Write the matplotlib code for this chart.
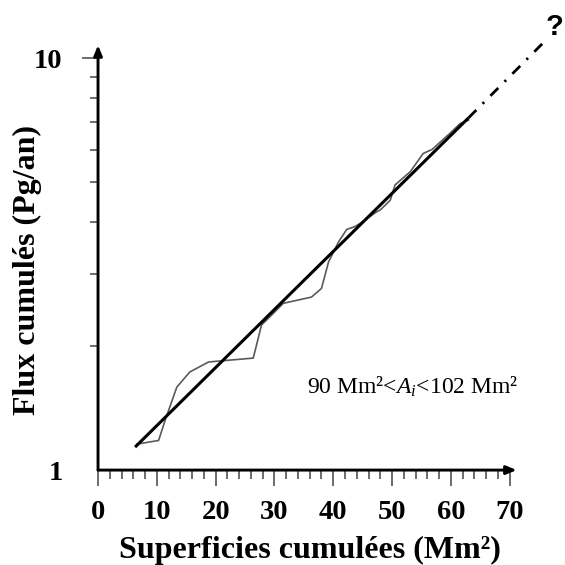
import numpy as np
import matplotlib
matplotlib.use("Agg")
import matplotlib.pyplot as plt
from matplotlib.ticker import FixedLocator, NullFormatter

plt.rcParams["font.family"] = "Liberation Serif"
plt.rcParams["mathtext.fontset"] = "custom"
plt.rcParams["mathtext.rm"] = "Liberation Serif"
plt.rcParams["mathtext.it"] = "Liberation Serif:italic"

# cumulative surface (Mm2) vs cumulative flux (Pg/yr)
surf = [6.6, 10.3, 11.4, 13.4, 15.6, 18.8, 20.7, 26.4, 27.8, 29.8, 31.5, 36.3,
        38.0, 39.2, 40.9, 42.3, 43.7, 45.4, 47.2, 48.0, 49.7, 50.5, 53.1,
        55.3, 56.8, 59.9, 61.6, 63.0]
flux = [1.156, 1.18, 1.32, 1.59, 1.73, 1.83, 1.84, 1.87, 2.25, 2.40, 2.54, 2.63,
        2.76, 3.20, 3.58, 3.84, 3.90, 4.04, 4.22, 4.28, 4.52, 4.92, 5.30,
        5.87, 6.00, 6.58, 6.94, 7.07]

# fitted line and its extrapolation
fit_x = [6.3, 63.0]
fit_y = [1.137, 7.16]
ext_x = [63.0, 76.0]
ext_y = [7.16, 11.0]

x_major = np.arange(0, 71, 10)
x_minor = np.arange(0, 71, 2)
y_minor = [2, 3, 4, 5, 6, 7, 8, 9]

fig = plt.figure(figsize=(5.65, 5.65), dpi=100)
ax = fig.add_axes([0.1735, 0.168, 0.741, 0.752])
ax.set_yscale("log")
ax.set_xlim(0, 71.2)
ax.set_ylim(1, 10.75)

ax.plot(surf, flux, color="#5a5a5a", lw=1.2)
ax.plot(fit_x, fit_y, color="black", lw=2.2, solid_capstyle="butt")
ax.plot(ext_x, ext_y, color="black", lw=2.0, dashes=[4, 3.2, 0.8, 3.2],
        clip_on=False)
ax.text(77.6, 11.9, "?", family="Liberation Sans", weight="bold", fontsize=21,
        ha="center", va="center")

ax.text(53.6, 1.59, r"90 Mm²<$A_i$<102 Mm²", fontsize=17, ha="center",
        va="center")

for s in ax.spines.values():
    s.set_visible(False)
ax.annotate("", xy=(1, 0), xytext=(0, 0), xycoords="axes fraction",
            arrowprops=dict(arrowstyle="-|>,head_length=0.6,head_width=0.25",
                            lw=2.1, color="black", shrinkA=0, shrinkB=0))
ax.annotate("", xy=(0, 1), xytext=(0, 0), xycoords="axes fraction",
            arrowprops=dict(arrowstyle="-|>,head_length=0.6,head_width=0.25",
                            lw=2.1, color="black", shrinkA=0, shrinkB=0))

ax.xaxis.set_major_locator(FixedLocator(x_major))
ax.xaxis.set_minor_locator(FixedLocator(x_minor))
ax.yaxis.set_major_locator(FixedLocator([1, 10]))
ax.yaxis.set_minor_locator(FixedLocator(y_minor))
ax.yaxis.set_minor_formatter(NullFormatter())
ax.set_yticklabels(["1", "10"])

ax.tick_params(axis="x", which="major", direction="out", length=11.5, width=1.1,
               color="#444444", pad=10, labelsize=20.5)
ax.tick_params(axis="x", which="minor", direction="out", length=6.5, width=1.1,
               color="#444444")
ax.tick_params(axis="y", which="major", direction="out", length=11.5, width=1.1,
               color="#444444", pad=14, labelsize=20.5)
ax.tick_params(axis="y", which="minor", direction="out", length=5.8, width=1.1,
               color="#444444")
ax.yaxis.get_major_ticks()[0].tick1line.set_visible(False)
for lab in ax.get_xticklabels() + ax.get_yticklabels():
    lab.set_fontweight("bold")

ax.set_xlabel("Superficies cumulées (Mm²)", fontsize=23, weight="bold")
ax.set_ylabel("Flux cumulés (Pg/an)", fontsize=23, weight="bold")
ax.xaxis.set_label_coords(0.505, -0.155)
ax.yaxis.set_label_coords(-0.134, 0.47)

fig.savefig("out.png", dpi=100)
